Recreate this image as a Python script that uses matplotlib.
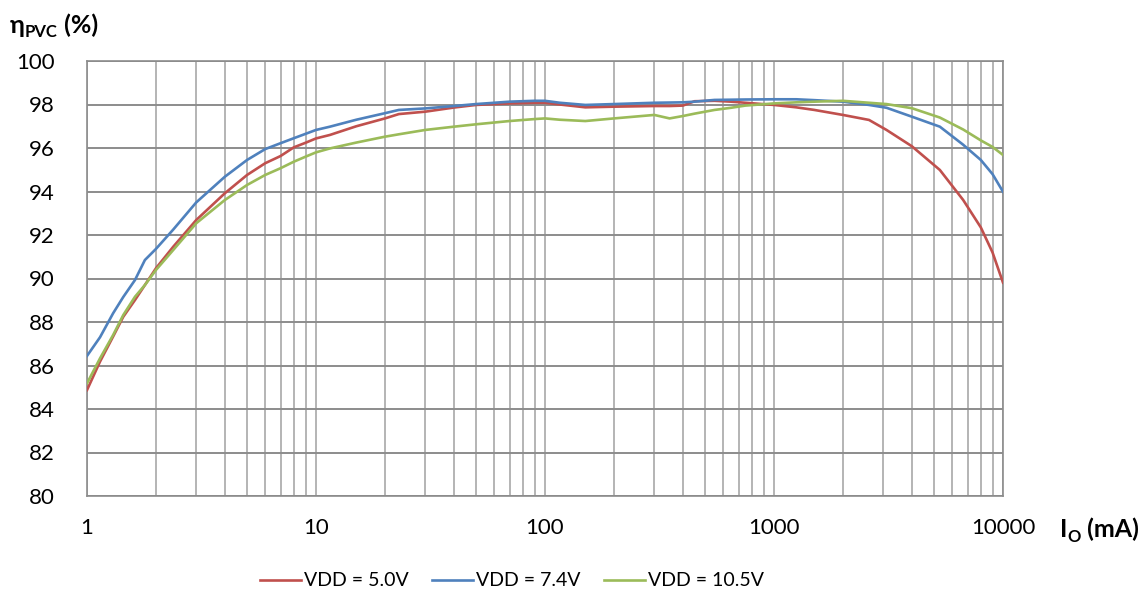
import matplotlib
matplotlib.use("Agg")
import matplotlib.pyplot as plt
from matplotlib.ticker import FixedLocator, NullFormatter, LogLocator

io_ma = [1, 1.14, 1.3, 1.44, 1.62, 1.79, 2, 2.38, 3, 4, 5, 6, 7, 8, 9, 10, 11.5, 15, 20, 23,
         30, 40, 50, 70, 90, 100, 116, 150, 200, 300, 350, 400, 450, 550, 650, 750, 1000,
         1250, 1500, 2000, 2600, 3100, 4000, 5300, 6700, 8000, 9000, 10000]

eff_5v0 = [84.87, 86.18, 87.33, 88.24, 89.01, 89.7, 90.47, 91.46, 92.69, 93.92, 94.76, 95.3,
           95.63, 96.03, 96.24, 96.44, 96.6, 97.0, 97.36, 97.56, 97.67, 97.86, 97.98, 98.05,
           98.08, 98.08, 98.0, 97.87, 97.9, 97.93, 97.93, 97.95, 98.15, 98.17, 98.13, 98.08,
           97.98, 97.87, 97.75, 97.52, 97.29, 96.83, 96.08, 94.99, 93.61, 92.35, 91.2, 89.81]

eff_7v4 = [86.44, 87.3, 88.4, 89.15, 89.93, 90.85, 91.36, 92.25, 93.5, 94.68, 95.45, 95.95,
           96.22, 96.45, 96.65, 96.83, 96.98, 97.3, 97.6, 97.75, 97.82, 97.93, 98.02, 98.13,
           98.17, 98.17, 98.08, 97.98, 98.02, 98.08, 98.09, 98.1, 98.13, 98.21, 98.22, 98.23,
           98.24, 98.24, 98.2, 98.13, 97.98, 97.85, 97.44, 96.98, 96.15, 95.45, 94.8, 93.99]

eff_10v5 = [85.18, 86.33, 87.4, 88.32, 89.16, 89.7, 90.39, 91.31, 92.54, 93.61, 94.3, 94.76,
            95.07, 95.37, 95.6, 95.8, 95.98, 96.25, 96.52, 96.63, 96.83, 96.98, 97.09, 97.24,
            97.33, 97.36, 97.3, 97.24, 97.36, 97.52, 97.36, 97.47, 97.58, 97.75, 97.85, 97.95,
            98.05, 98.1, 98.13, 98.17, 98.08, 98.02, 97.83, 97.4, 96.85, 96.35, 96.05, 95.68]

series_labels = ["VDD = 5.0V", "VDD = 7.4V", "VDD = 10.5V"]
series_colors = ["#C0504D", "#4F81BD", "#9BBB59"]
x_ticks = [1, 10, 100, 1000, 10000]
x_ticklabels = ["1", "10", "100", "1000", "10000"]
y_ticks = list(range(80, 101, 2))

plt.rcParams['font.family'] = ['Lato', 'DejaVu Sans']

W, H = 1142, 607
fig = plt.figure(figsize=(W / 100, H / 100), dpi=100)
ax = fig.add_axes([87 / W, 1 - 496 / H, (1003 - 87) / W, (496 - 61) / H])

for ys, lab, col in zip([eff_5v0, eff_7v4, eff_10v5], series_labels, series_colors):
    ax.plot(io_ma, ys, color=col, lw=1.9, label=lab, zorder=3)

ax.set_xscale('log')
ax.set_xlim(1, 10000)
ax.set_ylim(80, 100)
ax.xaxis.set_major_locator(FixedLocator(x_ticks))
ax.set_xticklabels(x_ticklabels)
ax.xaxis.set_minor_locator(LogLocator(base=10, subs=range(2, 10), numticks=20))
ax.xaxis.set_minor_formatter(NullFormatter())
ax.set_yticks(y_ticks)
ax.set_yticklabels([str(v) for v in y_ticks])

ax.grid(True, which='major', axis='y', color='#8C8C8C', lw=1.4)
ax.grid(True, which='both', axis='x', color='#B4B4B4', lw=1.4)
ax.set_axisbelow(True)
for s in ax.spines.values():
    s.set_color('#8C8C8C')
    s.set_linewidth(1.2)
ax.tick_params(which='both', length=0, labelsize=16, colors='black')
ax.tick_params(axis='x', pad=16)
ax.tick_params(axis='y', pad=23)

renderer = fig.canvas.get_renderer()


def seq_text(x_px, y_px, pieces):
    x = x_px
    for s, size, dy in pieces:
        t = fig.text(x / W, 1 - (y_px + dy) / H, s, fontsize=size, fontweight='bold',
                     va='baseline', ha='left')
        bb = t.get_window_extent(renderer=renderer)
        x += bb.width


seq_text(10, 33, [("η", 18, 0), ("PVC", 12, 4), (" (%)", 18, 0)])
seq_text(1060, 537, [("I", 18, 0), ("O", 12, 5), (" (mA)", 18, 0)])

leg = fig.legend(loc='center', bbox_to_anchor=(512 / W, 1 - 581 / H), ncol=3, frameon=False,
                 fontsize=14, handlelength=2.1, columnspacing=1.2, handletextpad=0.15,
                 borderaxespad=0, borderpad=0)

fig.savefig("out.png", dpi=100)
